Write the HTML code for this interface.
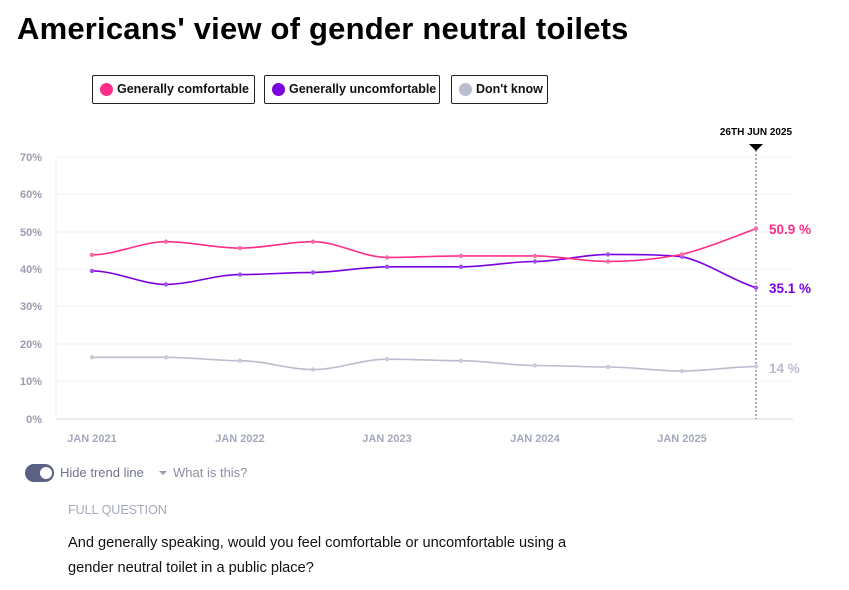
<!DOCTYPE html>
<html><head><meta charset="utf-8"><style>
body{margin:0;width:849px;height:590px;background:#fff;font-family:"Liberation Sans",sans-serif;position:relative;overflow:hidden}
h1{position:absolute;left:17px;top:11px;margin:0;font-size:31px;font-weight:bold;color:#000;letter-spacing:0.2px;white-space:nowrap}
.leg{position:absolute;top:75px;height:29px;border:1px solid #222;border-radius:2px;font-size:12.5px;font-weight:bold;line-height:27px;padding:0 0 0 24px;box-sizing:border-box;color:#111;white-space:nowrap}
.leg i{position:absolute;left:7px;top:7px;width:13px;height:13px;border-radius:50%}
.t{position:absolute;font-size:13px;color:#8a8fa3;white-space:nowrap}
</style></head><body>
<h1>Americans' view of gender neutral toilets</h1>
<div class="leg" style="left:92px;width:163px"><i style="background:#ff2d87"></i>Generally comfortable</div>
<div class="leg" style="left:264px;width:176px"><i style="background:#7a00e0"></i>Generally uncomfortable</div>
<div class="leg" style="left:451px;width:97px"><i style="background:#b9bdcc"></i>Don't know</div>
<svg width="849" height="590" style="position:absolute;left:0;top:0" font-family="Liberation Sans, sans-serif">
<g stroke="#f0f1f6" stroke-width="1">
<line x1="56" x2="793" y1="157" y2="157"/><line x1="56" x2="793" y1="194" y2="194"/><line x1="56" x2="793" y1="232" y2="232"/><line x1="56" x2="793" y1="269" y2="269"/><line x1="56" x2="793" y1="306" y2="306"/><line x1="56" x2="793" y1="344" y2="344"/><line x1="56" x2="793" y1="381" y2="381"/>
<line x1="56" x2="56" y1="157" y2="419"/>
</g>
<line x1="56" x2="793" y1="419" y2="419" stroke="#d5d7e0"/>
<g font-size="11" font-weight="bold" fill="#9a9db0" text-anchor="end">
<text x="42" y="161">70%</text><text x="42" y="198">60%</text><text x="42" y="236">50%</text><text x="42" y="273">40%</text><text x="42" y="310">30%</text><text x="42" y="348">20%</text><text x="42" y="385">10%</text><text x="42" y="423">0%</text>
</g>
<g font-size="11" font-weight="bold" fill="#a4a8bb" text-anchor="middle">
<text x="92" y="442">JAN 2021</text><text x="240" y="442">JAN 2022</text><text x="387" y="442">JAN 2023</text><text x="535" y="442">JAN 2024</text><text x="682" y="442">JAN 2025</text>
</g>
<line x1="756" x2="756" y1="150" y2="419" stroke="#555a70" stroke-dasharray="2,2"/>
<polygon points="749,144 763,144 756,151" fill="#000"/>
<text x="756" y="135" font-size="10" font-weight="bold" text-anchor="middle" fill="#000">26TH JUN 2025</text>
<g fill="none" stroke-width="1.6">
<path stroke="#b9bdcc" d="M92,357.3 C116.6,357.3 141.4,357.3 166,357.3 C190.6,357.3 215.4,360.7 240,360.7 C264.6,360.7 288.4,369.6 313,369.6 C337.6,369.6 362.4,359.2 387,359.2 C411.6,359.2 436.4,360.7 461,360.7 C485.6,360.7 510.4,365.5 535,365.5 C559.6,365.5 583.4,367 608,367 C632.6,367 657.4,371.1 682,371.1 C706.6,371.1 731.4,366.6 756,366.6"/>
<path stroke="#7a00e0" d="M92,270.9 C116.6,270.9 141.4,284.4 166,284.4 C190.6,284.4 215.4,274.6 240,274.6 C264.6,274.6 288.4,272.4 313,272.4 C337.6,272.4 362.4,266.8 387,266.8 C411.6,266.8 436.4,266.8 461,266.8 C485.6,266.8 510.4,261.5 535,261.5 C559.6,261.5 583.4,254.4 608,254.4 C632.6,254.4 657.4,254.4 682,256.7 C706.6,262 731.4,280 756,287.7"/>
<path stroke="#ff2d87" d="M92,254.8 C116.6,254.8 141.4,241.7 166,241.7 C190.6,241.7 215.4,248.1 240,248.1 C264.6,248.1 288.4,241.7 313,241.7 C337.6,241.7 362.4,257.4 387,257.4 C411.6,257.4 436.4,255.9 461,255.9 C485.6,255.9 510.4,255.9 535,255.9 C559.6,255.9 583.4,261.5 608,261.5 C632.6,261.5 657.4,259 682,254.4 C706.6,248 731.4,238 756,228.6"/>
</g>
<g fill="#c9ccd8"><circle cx="92" cy="357.3" r="2.2"/><circle cx="166" cy="357.3" r="2.2"/><circle cx="240" cy="360.7" r="2.2"/><circle cx="313" cy="369.6" r="2.2"/><circle cx="387" cy="359.2" r="2.2"/><circle cx="461" cy="360.7" r="2.2"/><circle cx="535" cy="365.5" r="2.2"/><circle cx="608" cy="367" r="2.2"/><circle cx="682" cy="371.1" r="2.2"/><circle cx="756" cy="366.6" r="2.2"/></g>
<g fill="#a04ff0"><circle cx="92" cy="270.9" r="2.2"/><circle cx="166" cy="284.4" r="2.2"/><circle cx="240" cy="274.6" r="2.2"/><circle cx="313" cy="272.4" r="2.2"/><circle cx="387" cy="266.8" r="2.2"/><circle cx="461" cy="266.8" r="2.2"/><circle cx="535" cy="261.5" r="2.2"/><circle cx="608" cy="254.4" r="2.2"/><circle cx="682" cy="256.7" r="2.2"/><circle cx="756" cy="287.7" r="2.2"/></g>
<g fill="#ff6aa8"><circle cx="92" cy="254.8" r="2.2"/><circle cx="166" cy="241.7" r="2.2"/><circle cx="240" cy="248.1" r="2.2"/><circle cx="313" cy="241.7" r="2.2"/><circle cx="387" cy="257.4" r="2.2"/><circle cx="461" cy="255.9" r="2.2"/><circle cx="535" cy="255.9" r="2.2"/><circle cx="608" cy="261.5" r="2.2"/><circle cx="682" cy="254.4" r="2.2"/><circle cx="756" cy="228.6" r="2.2"/></g>
<g font-size="13.5" font-weight="bold">
<text x="769" y="234" fill="#ff2d87">50.9 %</text>
<text x="769" y="293" fill="#7a00e0">35.1 %</text>
<text x="769" y="373" fill="#b9bdcc">14 %</text>
</g>
</svg>
<div style="position:absolute;left:25px;top:464px;width:29px;height:18px;border-radius:9px;background:#5a6185"></div>
<div style="position:absolute;left:40px;top:467px;width:12px;height:12px;border-radius:50%;background:#fff"></div>
<div class="t" style="left:60px;top:465px;color:#6f7490">Hide trend line</div>
<div style="position:absolute;left:159px;top:471px;width:0;height:0;border-left:4px solid transparent;border-right:4px solid transparent;border-top:4px solid #9a9db0"></div>
<div class="t" style="left:173px;top:465px;color:#8a8fa3">What is this?</div>
<div class="t" style="left:68px;top:503px;font-size:12.5px;color:#a4a8bb">FULL QUESTION</div>
<div style="position:absolute;left:68px;top:531px;font-size:14.6px;line-height:25px;color:#111;width:540px">And generally speaking, would you feel comfortable or uncomfortable using a gender neutral toilet in a public place?</div>
</body></html>
